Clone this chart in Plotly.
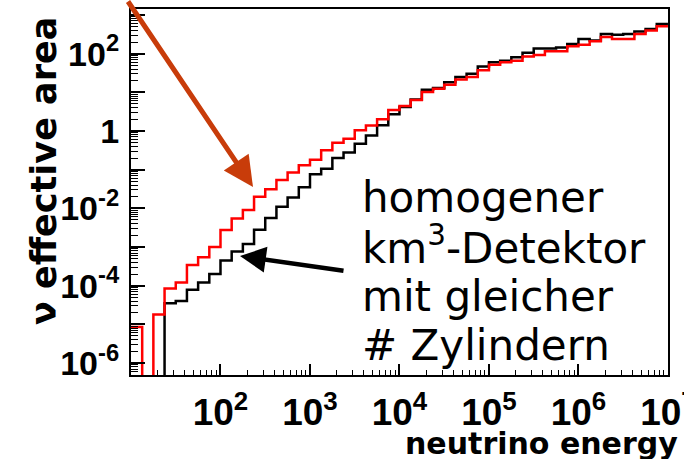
import numpy as np
import plotly.graph_objects as go

# histogram binning: 48 bins, 8 per decade, from 10^1 to 10^7
bin_edges = np.logspace(1, 7, 49)

# effective area per bin (0 = empty bin)
red_vals = [8.5e-6, 0, 1.8e-5, 8.5e-5, 1.2e-4, 3.4e-4, 5.4e-4, 1.0e-3,
            2.75e-3, 5.5e-3, 9.1e-3, 0.020, 0.031, 0.054, 0.085, 0.13,
            0.18, 0.32, 0.50, 0.63, 1.05, 1.38, 2.0, 3.5,
            4.4, 6.3, 10.2, 12.3, 15.8, 21.4, 25.1, 37,
            52, 60, 66, 85, 93, 115, 115, 155,
            170, 209, 269, 240, 240, 324, 398, 513]
black_vals = [0, 0, 0, 3.5e-5, 4.0e-5, 7.9e-5, 1.2e-4, 2.0e-4,
              4.5e-4, 7.6e-4, 1.2e-3, 2.8e-3, 5.6e-3, 0.011, 0.019, 0.035,
              0.076, 0.105, 0.20, 0.28, 0.47, 0.76, 1.41, 2.7,
              4.2, 6.5, 11.7, 12.9, 18.2, 25.1, 30.2, 46.8,
              60, 66, 81, 105, 135, 135, 145, 178,
              240, 219, 324, 309, 324, 372, 437, 589]

x_tickvals = [1e1, 1e2, 1e3, 1e4, 1e5, 1e6, 1e7]
x_ticktext = ["", "10<sup>2</sup>", "10<sup>3</sup>", "10<sup>4</sup>",
              "10<sup>5</sup>", "10<sup>6</sup>", "10<sup>7</sup>"]
y_tickvals = [1e-6, 1e-5, 1e-4, 1e-3, 1e-2, 1e-1, 1, 10, 100, 1000]
y_ticktext = ["10<sup>-6</sup>", "", "10<sup>-4</sup>", "", "10<sup>-2</sup>", "",
              "1", "", "10<sup>2</sup>", ""]

annot_lines = ["homogener", "km<sup>3</sup>-Detektor", "mit gleicher", "# Zylindern"]


def step_xy(vals):
    ys = [v if v > 0 else 1e-12 for v in vals]
    return list(bin_edges), ys + [ys[-1]]


W, H = 684, 459
L, R, T, B = 131, 668, 9, 375


def px(x):
    return (x - L) / (R - L)


def py(y):
    return (B - y) / (B - T)


fig = go.Figure()
bx, by = step_xy(black_vals)
fig.add_trace(go.Scatter(x=bx, y=by, mode="lines", line=dict(color="black", width=2.5, shape="hv"),
                         showlegend=False, hoverinfo="skip"))
rx, ry = step_xy(red_vals)
fig.add_trace(go.Scatter(x=rx, y=ry, mode="lines", line=dict(color="#ff0000", width=2.5, shape="hv"),
                         showlegend=False, hoverinfo="skip"))

annotations = []
mids = [197, 246, 296, 345]
for txt, ym in zip(annot_lines, mids):
    annotations.append(dict(xref="paper", yref="paper", x=px(360), y=py(ym), xanchor="left",
                            yanchor="middle", text=txt, showarrow=False,
                            font=dict(family="DejaVu Sans", size=42, color="black")))

# red arrow
annotations.append(dict(xref="paper", yref="paper", x=px(253), y=py(187), ax=-126, ay=-195,
                        text="", showarrow=True, arrowhead=2, arrowwidth=5, arrowsize=1.2,
                        arrowcolor="#c83c0a"))
# black arrow
annotations.append(dict(xref="paper", yref="paper", x=px(240), y=py(256), ax=105, ay=15,
                        text="", showarrow=True, arrowhead=2, arrowwidth=4.5, arrowsize=1.15,
                        arrowcolor="black"))
# axis titles
annotations.append(dict(xref="paper", yref="paper", x=px(680), y=py(444), xanchor="right",
                        yanchor="middle", text="neutrino energy", showarrow=False,
                        font=dict(family="DejaVu Sans", size=30, color="black", weight="bold")))
annotations.append(dict(xref="paper", yref="paper", x=px(44), y=py(171), xanchor="center",
                        yanchor="middle", text="ν effective area", showarrow=False, textangle=-90,
                        font=dict(family="DejaVu Sans", size=35, color="black", weight="bold")))

fig.update_layout(
    width=W, height=H,
    margin=dict(l=L, r=W - R, t=T, b=H - B, autoexpand=False),
    paper_bgcolor="white", plot_bgcolor="white",
    annotations=annotations,
    xaxis=dict(type="log", range=[1, 7.0005], showgrid=False, zeroline=False, automargin=False,
               showline=True, linecolor="black", linewidth=2, mirror=True,
               ticks="inside", ticklen=11, tickwidth=1.5, tickcolor="black",
               tickmode="array", tickvals=x_tickvals, ticktext=x_ticktext,
               ticklabelstandoff=4, ticklabeloverflow="allow",
               tickfont=dict(family="Liberation Sans", size=37, color="black", weight="bold"),
               minor=dict(ticks="inside", ticklen=5, tickwidth=1.2, tickcolor="black", dtick="D1",
                          showgrid=False)),
    yaxis=dict(type="log", range=[-6.31, 3.155], showgrid=False, zeroline=False, automargin=False,
               showline=True, linecolor="black", linewidth=2, mirror=True,
               ticks="inside", ticklen=14, tickwidth=1.5, tickcolor="black",
               tickmode="array", tickvals=y_tickvals, ticktext=y_ticktext,
               ticklabelstandoff=3,
               tickfont=dict(family="Liberation Sans", size=34, color="black", weight="bold"),
               minor=dict(ticks="inside", ticklen=7, tickwidth=1.2, tickcolor="black", dtick="D1",
                          showgrid=False)),
)

fig.write_html("out.html")
